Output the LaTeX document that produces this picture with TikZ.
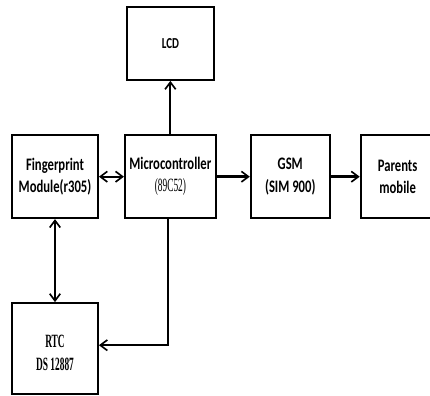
\documentclass[tikz,border=0pt]{standalone}
\usepackage{fontspec}
\setmainfont{Carlito}[FakeStretch=0.72]
\newfontfamily\rtcfont{Liberation Serif}[FakeStretch=0.5,
  BoldFont={Liberation Serif Bold}, BoldFeatures={FakeStretch=0.5}]
\usetikzlibrary{arrows.meta,positioning}
\tikzset{
    blk/.style={rectangle,draw=black,line width=1.6pt,minimum height=2.49cm,inner sep=1pt,
      align=center,font=\fontsize{15}{19}\selectfont\bfseries},
    pil/.style={-{Straight Barb[length=6pt,width=9pt,line width=1.4pt]},line width=1.5pt},
    pilb/.style={{Straight Barb[length=6pt,width=9pt,line width=1.4pt]}-{Straight Barb[length=6pt,width=9pt,line width=1.4pt]},line width=1.5pt},
    fat/.style={pil,line width=2.3pt}
}

\begin{document}
\begin{tikzpicture}
    \useasboundingbox (0,0) rectangle (12.9,-11.85);
    \node[blk, minimum width=2.58cm] (finger) at (1.65,-5.3)
      {Fingerprint\\Module(r305)};
    \node[blk, minimum width=2.73cm, right=0.75cm of finger] (micro)
      {Microcontroller\\{\rtcfont\mdseries\fontsize{16}{19}\selectfont(89C52)}};
    \node[blk, minimum width=2.37cm, right=0.99cm of micro] (gsm)
      {GSM\\(SIM 900)};
    \node[blk, minimum width=2.22cm, right=0.87cm of gsm] (parents)
      {Parents\\mobile};
    \node[blk, minimum width=2.61cm, minimum height=2.2cm, above=1.6cm of micro,
      font=\fontsize{13}{19}\selectfont\bfseries] (lcd)
      {LCD};
    \node[blk, minimum width=2.58cm, minimum height=2.73cm, below=2.49cm of finger,
      font=\rtcfont\fontsize{16}{20}\selectfont\bfseries] (rtc)
      {\mbox{}\\[-2pt]RTC\\DS 12887};

    % connections
    \draw[pil] (micro) -- (lcd);
    \draw[pilb] (finger) -- (micro);
    \draw[fat] (micro) -- (gsm);
    \draw[fat] (gsm) -- (parents);
    \draw[pilb] (finger) -- (rtc);
    \draw[pil, line width=2pt] ([xshift=-0.07cm]micro.south) |- ([yshift=0.1cm]rtc.east);
\end{tikzpicture}
\end{document}
